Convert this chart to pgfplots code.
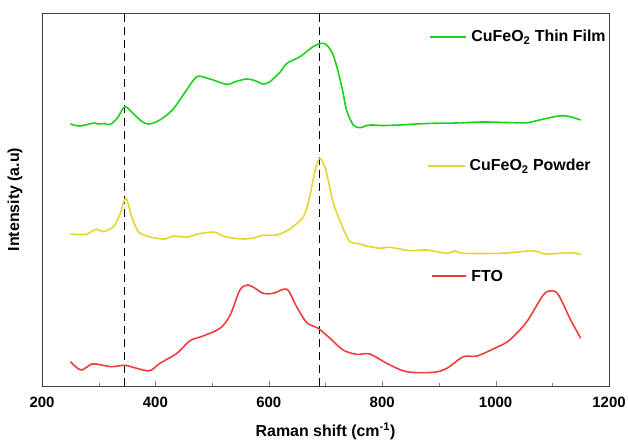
\documentclass[border=0pt]{standalone}
\usepackage{fontspec}
\setmainfont{Liberation Sans}
\usepackage{pgfplots}
\pgfplotsset{compat=1.18}

\definecolor{filmgreen}{RGB}{25,210,25}
\definecolor{powderyellow}{RGB}{228,214,46}
\definecolor{ftored}{RGB}{240,60,60}

\begin{document}
\begin{tikzpicture}
\begin{axis}[
    scale only axis,
    width=567bp, height=373bp,
    xmin=200, xmax=1200,
    ymin=0, ymax=373,
    xtick={200,400,...,1200},
    minor x tick num=1,
    xtick pos=bottom,
    tick align=inside,
    major tick length=5bp,
    minor tick length=3bp,
    ytick=\empty,
    axis line style={line width=0.8pt, black!75},
    /pgf/number format/assume math mode=true,
    /pgf/number format/1000 sep={},
    tick label style={font=\fontsize{15}{17}\selectfont\bfseries},
    x tick label style={yshift=-8bp},
    label style={font=\fontsize{16}{18}\selectfont\bfseries},
    xlabel={Raman shift (cm\textsuperscript{-1})},
    ylabel={Intensity (a.u)},
    xlabel style={yshift=-8bp},
    ylabel style={yshift=16bp},
    every axis plot/.append style={line width=1.6pt, smooth, tension=0.5},
]
% reference lines
\draw[line width=1.3pt, dash pattern=on 8bp off 5bp] (axis cs:345,0) -- (axis cs:345,373);
\draw[line width=1.3pt, dash pattern=on 8bp off 5bp] (axis cs:690,0) -- (axis cs:690,373);

% CuFeO2 thin film
\addplot[filmgreen] coordinates {
(250,262) (265,260) (280,261.5) (292,263) (300,262) (310,262.5) (320,261.5)
(333,268) (346,279.3) (360,273) (375,265) (387,262) (405,265) (430,276)
(455,296) (473,309.3) (490,308) (502,306) (526,301.7) (545,305) (561,307)
(575,305.5) (590,302) (602,304.3) (620,314) (632,322.7) (655,329.3)
(678,339.3) (693,342.7) (702,341) (712,333) (720,319.3) (730,296) (737,276)
(749,261) (761,258.3) (770,260) (781,261) (800,260.5) (831,261) (860,262)
(890,262.7) (930,263) (978,264) (1020,263.5) (1055,263.3) (1085,267)
(1114,270.3) (1131,269.3) (1150,266)
};

% CuFeO2 powder
\addplot[powderyellow] coordinates {
(250,152) (265,151.5) (279,152) (296,156.7) (308,154.3) (326,159.3) (337,171)
(348,187.7) (358,169.3) (370,154.3) (385,150) (396,148.3) (417,147) (432,150)
(455,148.7) (473,151.7) (502,154) (520,150) (532,148.3) (555,147) (573,148)
(590,150.7) (614,151) (637,157) (661,169.3) (672,189) (678,206) (684,221)
(690,227.7) (696,223) (702,212.7) (714,182.7) (731,157.7) (743,144.3)
(755,142.7) (773,140) (796,137.7) (814,138.7) (849,135.3) (878,136)
(914,132.7) (928,135.3) (943,132.7) (1008,132.7) (1040,134) (1066,135.3)
(1090,132) (1131,133.3) (1150,131.7)
};

% FTO
\addplot[ftored] coordinates {
(250,24.3) (260,19) (270,16) (288,22) (302,21.3) (323,19.3) (346,20.7)
(367,17.7) (390,15.3) (408,22.7) (438,32.7) (461,45.3) (484,50) (514,57.7)
(532,71) (549,96) (563,101) (575,98) (590,92.7) (608,92.7) (632,96.7)
(649,79.3) (667,63.3) (687,57.7) (708,47.7) (731,36) (755,31.7) (778,32)
(808,22.7) (843,14.3) (890,13.7) (914,17.7) (943,29.3) (967,30) (1002,38.7)
(1025,46) (1055,64.3) (1084,91) (1099,95.3) (1111,91) (1131,67.7) (1150,47.7)
};

% legend entries beside each curve
\draw[filmgreen, line width=1.6pt] (axis cs:884,349) -- (axis cs:948,349);
\node[anchor=west, inner sep=0pt, font=\fontsize{16}{18}\selectfont\bfseries] at (axis cs:957,349) {CuFeO\textsubscript{2} Thin Film};
\draw[powderyellow, line width=1.6pt] (axis cs:881,220) -- (axis cs:946,220);
\node[anchor=west, inner sep=0pt, font=\fontsize{16}{18}\selectfont\bfseries] at (axis cs:954,220) {CuFeO\textsubscript{2} Powder};
\draw[ftored, line width=1.6pt] (axis cs:888,110) -- (axis cs:948,110);
\node[anchor=west, inner sep=0pt, font=\fontsize{16}{18}\selectfont\bfseries] at (axis cs:957,110) {FTO};

\coordinate (ll) at (rel axis cs:0,0);
\coordinate (ur) at (rel axis cs:1,1);
\end{axis}
\pgfresetboundingbox
\path ([xshift=-42bp,yshift=-54bp]ll) rectangle ([xshift=19bp,yshift=13bp]ur);
\end{tikzpicture}
\end{document}
